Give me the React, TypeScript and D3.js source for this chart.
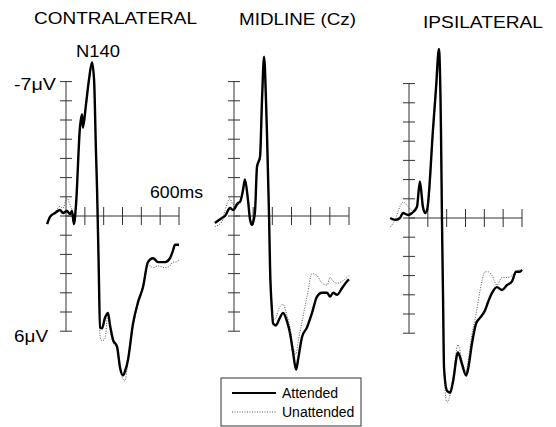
import * as d3 from "d3";

// ERP waveforms, time in ms, amplitude in microvolts (negative plotted up)
const contraTime = [-100, -85, -58, -32, -16, 5, 21, 32, 42, 53, 74, 85, 90, 106, 122, 138, 149, 159, 165, 173, 181, 191, 207, 223, 234, 250, 271, 287, 303, 313, 329, 356, 382, 409, 435, 462, 489, 526, 552, 568, 579, 600];
const contraAtt = [0.42, 0.05, -0.16, -0.31, -0.16, -0.26, -0.1, -0.26, 0.42, -0.57, -4.6, -5.3, -4.6, -5.8, -7.1, -8.0, -7.1, -3.4, -1.35, 2.3, 5.8, 5.85, 5.3, 5.05, 5.7, 6.45, 6.8, 7.9, 8.3, 8.1, 7.5, 5.6, 4.5, 3.7, 2.4, 2.2, 2.4, 2.4, 2.2, 1.8, 1.5, 1.5];
const contraUnatt = [0.35, 0.1, -0.2, -0.5, -0.4, -0.94, -0.6, -0.3, 0.2, -0.5, -4.7, -5.0, -4.7, -5.7, -7.0, -7.8, -7.0, -3.4, -1.3, 2.4, 6.3, 6.5, 6.4, 5.1, 5.9, 6.6, 6.9, 8.0, 8.5, 8.6, 7.6, 5.7, 4.6, 3.6, 2.5, 2.7, 2.6, 2.7, 2.6, 2.4, 2.4, 2.3];

const midTime = [-100, -63, -47, -21, -5, 21, 31, 47, 57, 73, 84, 94, 99, 110, 120, 136, 146, 157, 167, 172, 183, 188, 198, 204, 219, 235, 256, 277, 292, 308, 324, 334, 355, 381, 407, 433, 459, 486, 501, 517, 538, 564, 590, 600];
const midAtt = [0.36, 0.1, 0, -0.42, -0.31, -0.68, -0.73, -1.35, -1.9, -0.83, 0.2, 0.47, 0.36, -0.31, -2.55, -3.1, -6.0, -8.3, -6.0, -4.3, 0.05, 2.65, 4.9, 5.6, 5.7, 5.4, 5.05, 5.5, 6.1, 7.1, 8.0, 7.5, 6.3, 5.8, 5.05, 4.2, 4.0, 4.0, 4.2, 4.0, 4.1, 3.75, 3.4, 3.3];
const midUnatt = [0.55, 0.3, -0.3, -0.9, -0.6, -0.6, -0.7, -1.3, -1.8, -0.9, 0.1, 0.4, 0.3, -0.3, -2.4, -3.0, -5.8, -7.6, -5.8, -4.2, 0.1, 2.6, 4.8, 5.4, 5.3, 4.8, 4.6, 5.2, 5.8, 6.8, 7.2, 6.6, 5.5, 4.2, 3.0, 3.1, 3.5, 3.6, 3.2, 3.4, 3.5, 3.4, 3.2, 3.1];

const ipsiTime = [-100, -74, -48, -32, -5, 16, 42, 58, 74, 85, 96, 128, 143, 159, 170, 175, 181, 186, 202, 218, 234, 260, 281, 303, 313, 335, 356, 377, 404, 419, 441, 467, 494, 520, 547, 568, 589, 600];
const ipsiAtt = [0, 0.1, 0, -0.26, -0.16, -0.26, -0.57, -1.9, -0.57, -0.26, -0.42, -4.7, -6.7, -8.8, -4.4, 0, 4.3, 7.8, 9.0, 9.1, 8.5, 7.0, 7.6, 8.2, 7.9, 6.5, 5.5, 5.2, 4.8, 4.4, 3.9, 3.6, 3.75, 3.5, 3.3, 2.8, 2.8, 2.7];
const ipsiUnatt = [0.47, 0.1, -0.6, -0.83, -0.6, -0.4, -0.6, -1.6, -0.6, -0.3, -0.3, -4.3, -6.4, -8.3, -4.2, 0.2, 4.5, 8.2, 9.6, 9.2, 8.3, 6.6, 7.4, 8.0, 7.5, 6.0, 5.0, 3.8, 2.8, 2.8, 3.0, 3.5, 3.1, 3.1, 3.0, 2.8, 2.7, 2.7];

const panelTitles = ["CONTRALATERAL", "MIDLINE (Cz)", "IPSILATERAL"];
const xTicks = [100, 200, 300, 400, 500, 600];
const yTicks = d3.range(-7, 7);
const legendLabels = ["Attended", "Unattended"];

const FONT = "'Liberation Sans', Arial, Helvetica, sans-serif";

const panels = [
  { title: panelTitles[0], time: contraTime, att: contraAtt, unatt: contraUnatt, x0: 66, x1: 179, zero: 216, tx: 34, ty: 24, tw: 163 },
  { title: panelTitles[1], time: midTime, att: midAtt, unatt: midUnatt, x0: 234, x1: 349, zero: 216, tx: 239, ty: 25, tw: 117 },
  { title: panelTitles[2], time: ipsiTime, att: ipsiAtt, unatt: ipsiUnatt, x0: 409, x1: 522, zero: 218, tx: 423, ty: 28, tw: 120 },
];

function Panel({ p }: { p: any }) {
  const x = d3.scaleLinear().domain([0, 600]).range([p.x0, p.x1]);
  const y = d3.scaleLinear().domain([-7, 6]).range([p.zero - 7 * 19.2, p.zero + 6 * 19.2]);
  const line = d3
    .line<number>()
    .x((_, i) => x(p.time[i]))
    .y((d) => y(d))
    .curve(d3.curveMonotoneX);

  return (
    <g>
      <text x={p.tx} y={p.ty} fontSize={17} fontFamily={FONT} textLength={p.tw} lengthAdjust="spacingAndGlyphs">
        {p.title}
      </text>
      {/* axes */}
      <g stroke="#333" strokeWidth={1}>
        <line x1={x(0)} x2={x(0)} y1={y(-7)} y2={y(6)} />
        {yTicks.map((t) => (
          <line key={"y" + t} x1={x(0) - 6} x2={x(0) + 6} y1={y(t)} y2={y(t)} />
        ))}
        <line x1={x(0)} x2={x(600)} y1={y(0)} y2={y(0)} />
        {xTicks.map((t) => (
          <line key={"x" + t} x1={x(t)} x2={x(t)} y1={y(0) - 9} y2={y(0) + 9} />
        ))}
      </g>
      <path d={line(p.unatt) || ""} fill="none" stroke="#555" strokeWidth={1} strokeDasharray="1,1.5" />
      <path d={line(p.att) || ""} fill="none" stroke="#000" strokeWidth={2.4} strokeLinejoin="round" />
    </g>
  );
}

export default function App() {
  return (
    <svg
      width={556}
      height={427}
      style={{ position: "absolute", left: 0, top: 0, background: "#fff" }}
      fontFamily={FONT}
    >
      {panels.map((p) => (
        <Panel key={p.title} p={p} />
      ))}
      <text x={76} y={57} fontSize={17} textLength={44} lengthAdjust="spacingAndGlyphs">N140</text>
      <text x={14} y={90} fontSize={17} textLength={42} lengthAdjust="spacingAndGlyphs">-7μV</text>
      <text x={14} y={342} fontSize={17} textLength={34} lengthAdjust="spacingAndGlyphs">6μV</text>
      <text x={150} y={198} fontSize={17} textLength={53} lengthAdjust="spacingAndGlyphs">600ms</text>

      {/* legend */}
      <rect x={221} y={378} width={140} height={48} fill="none" stroke="#333" strokeWidth={1} />
      <line x1={232} x2={276} y1={393} y2={393} stroke="#000" strokeWidth={2} />
      <text x={282} y={398} fontSize={14}>{legendLabels[0]}</text>
      <line x1={232} x2={276} y1={412} y2={412} stroke="#555" strokeWidth={1} strokeDasharray="1,1.5" />
      <text x={282} y={417} fontSize={14}>{legendLabels[1]}</text>
    </svg>
  );
}
